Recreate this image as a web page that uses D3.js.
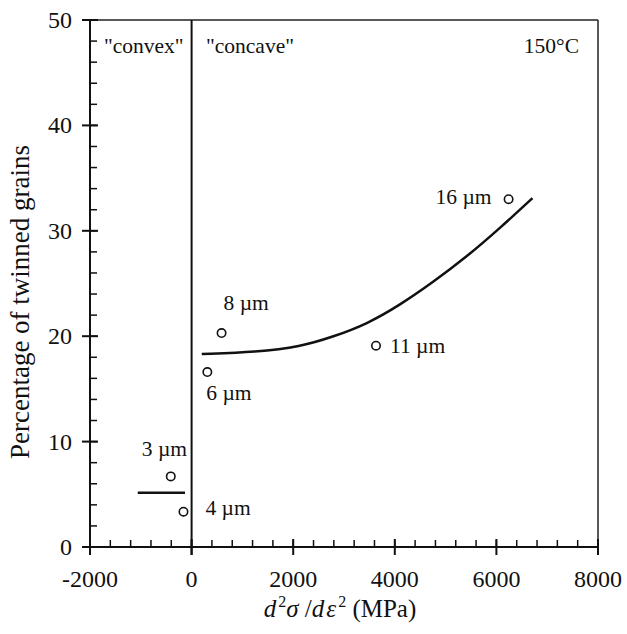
<!DOCTYPE html>
<html><head><meta charset="utf-8">
<script src="https://cdn.jsdelivr.net/npm/d3@7"></script>
<style>
html,body{margin:0;padding:0;background:#fff;}
svg text{font-family:"Liberation Serif","Times New Roman",serif;fill:#111;}
</style></head>
<body><svg id="c" width="627" height="634"></svg>
<script>
const xTicks = [-2000, 0, 2000, 4000, 6000, 8000];
const yTicks = [0, 10, 20, 30, 40, 50];
const pointLabels = ["3 µm", "4 µm", "6 µm", "8 µm", "11 µm", "16 µm"];
const pointX = [-410, -160, 310, 590, 3630, 6240];
const pointY = [6.7, 3.35, 16.6, 20.3, 19.1, 33.0];
const curveX = [200, 1280, 2140, 2790, 3450, 4100, 4760, 5420, 6070, 6710];
const curveY = [18.3, 18.5, 19.0, 19.95, 21.15, 22.95, 25.15, 27.55, 30.25, 33.1];
const convexX = [-1060, -130];
const convexY = [5.15, 5.15];
const regionLabels = ['"convex"', '"concave"', '150°C'];

const svg = d3.select("#c");
const L = 90, R = 598, T = 20, B = 547;
const x = d3.scaleLinear().domain([-2000, 8000]).range([L, R]);
const y = d3.scaleLinear().domain([0, 50]).range([B, T]);

// frame top/right
svg.append("line").attr("x1", L).attr("x2", R).attr("y1", T).attr("y2", T).attr("stroke", "#222").attr("stroke-width", 1.5);
svg.append("line").attr("x1", R).attr("x2", R).attr("y1", T).attr("y2", B).attr("stroke", "#222").attr("stroke-width", 1.5);

// x axis
const xMinor = d3.range(-2000, 8001, 400);
const gx = svg.append("g");
gx.append("line").attr("x1", L).attr("x2", R).attr("y1", B).attr("y2", B).attr("stroke", "#111").attr("stroke-width", 2);
gx.selectAll(".mn").data(xMinor).join("line").attr("x1", d => x(d)).attr("x2", d => x(d)).attr("y1", B).attr("y2", B - 7).attr("stroke", "#111").attr("stroke-width", 1.5);
gx.selectAll(".mj").data(xTicks).join("line").attr("x1", d => x(d)).attr("x2", d => x(d)).attr("y1", B - 8).attr("y2", B + 8).attr("stroke", "#111").attr("stroke-width", 2);
gx.selectAll("text").data(xTicks).join("text").attr("x", d => x(d)).attr("y", 587).attr("text-anchor", "middle").attr("font-size", 24).text(d => d);

// y axis
const yMinor = d3.range(0, 51, 2);
const gy = svg.append("g");
gy.append("line").attr("x1", L).attr("x2", L).attr("y1", T).attr("y2", B).attr("stroke", "#111").attr("stroke-width", 2);
gy.selectAll(".mn").data(yMinor).join("line").attr("x1", L).attr("x2", L + 7).attr("y1", d => y(d)).attr("y2", d => y(d)).attr("stroke", "#111").attr("stroke-width", 1.5);
gy.selectAll(".mj").data(yTicks).join("line").attr("x1", L - 8).attr("x2", L + 8).attr("y1", d => y(d)).attr("y2", d => y(d)).attr("stroke", "#111").attr("stroke-width", 2);
gy.selectAll("text").data(yTicks).join("text").attr("x", 72).attr("y", d => y(d) + 8).attr("text-anchor", "end").attr("font-size", 24).text(d => d);

// divider at 0
svg.append("line").attr("x1", x(0)).attr("x2", x(0)).attr("y1", T).attr("y2", B + 8).attr("stroke", "#111").attr("stroke-width", 2);

// region labels
const regPos = [[104, 53, "start"], [206, 53, "start"], [579, 53, "end"]];
svg.selectAll(".reg").data(regionLabels).join("text").attr("x", (d, i) => regPos[i][0]).attr("y", (d, i) => regPos[i][1]).attr("text-anchor", (d, i) => regPos[i][2]).attr("font-size", 21.5).text(d => d);

// curves
const line = d3.line().x(d => x(d[0])).y(d => y(d[1])).curve(d3.curveBasis);
svg.append("path").datum(curveX.map((v, i) => [v, curveY[i]])).attr("d", line).attr("fill", "none").attr("stroke", "#111").attr("stroke-width", 2.5);
svg.append("path").datum(convexX.map((v, i) => [v, convexY[i]])).attr("d", d3.line().x(d => x(d[0])).y(d => y(d[1]))).attr("fill", "none").attr("stroke", "#111").attr("stroke-width", 2.5);

// points
const pts = pointX.map((v, i) => ({x: v, y: pointY[i], label: pointLabels[i]}));
svg.selectAll(".pt").data(pts).join("circle").attr("cx", d => x(d.x)).attr("cy", d => y(d.y)).attr("r", 4.2).attr("fill", "#fff").attr("stroke", "#111").attr("stroke-width", 1.6);
const labOff = [[-29, -20], [22, 3.5], [-1, 28], [2, -23], [14, 7], [-73, 5]];
svg.selectAll(".pl").data(pts).join("text").attr("x", (d, i) => x(d.x) + labOff[i][0]).attr("y", (d, i) => y(d.y) + labOff[i][1]).attr("font-size", 21.5).text(d => d.label);

// y title
svg.append("text").attr("transform", "translate(29,302) rotate(-90)").attr("text-anchor", "middle").attr("font-size", 27).text("Percentage of twinned grains");

// x title
const xt = svg.append("text").attr("x", 340).attr("y", 617).attr("text-anchor", "middle").attr("font-size", 25);
xt.append("tspan").attr("font-style", "italic").text("d");
xt.append("tspan").attr("font-size", 16).attr("dy", -10).attr("dx", 2).text("2");
xt.append("tspan").attr("font-style", "italic").attr("dy", 10).text("σ");
xt.append("tspan").text(" /");
xt.append("tspan").attr("font-style", "italic").text("d");
xt.append("tspan").attr("font-style", "italic").attr("dx", 2).text("ε");
xt.append("tspan").attr("font-size", 16).attr("dy", -10).attr("dx", 2).text("2");
xt.append("tspan").attr("dy", 10).text(" (MPa)");
</script></body></html>
